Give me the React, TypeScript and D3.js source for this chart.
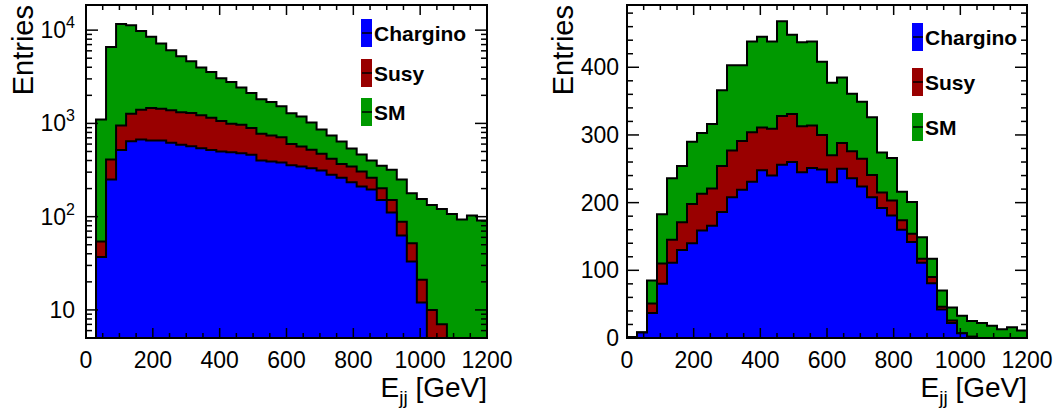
import React from "react";
import * as d3 from "d3";

// 40 bins of 30 GeV from 0 to 1200
const binWidth = 30;
const binLow = d3.range(0, 1200, binWidth);

// left panel (log y): entries per bin for each sample
const leftChargino = [0, 37, 250, 520, 645, 673, 656, 656, 620, 590, 570, 542, 520, 500, 490, 478, 460, 400, 390, 380, 355, 344, 330, 312, 281, 261, 234, 210, 196, 151, 111, 63, 33, 12, 0, 0, 0, 0, 0, 0];
const leftSusy = [0, 17, 160, 430, 625, 727, 804, 784, 760, 730, 720, 678, 630, 560, 500, 492, 430, 375, 350, 330, 245, 222, 191, 160, 136, 107, 110, 95, 65, 51, 40, 25, 19, 9, 10, 7, 0, 0, 0, 0];
const leftSM = [0, 1046, 6190, 10650, 10030, 8400, 7040, 5760, 4720, 3930, 3360, 2750, 2410, 1990, 1790, 1450, 1230, 1045, 960, 815, 682, 623, 504, 389, 326, 272, 194, 158, 139, 150, 167, 162, 126, 134, 123, 114, 107, 93, 103, 91];

// right panel (linear y)
const rightChargino = [1, 8, 37, 80, 111, 130, 140, 159, 166, 186, 208, 219, 231, 248, 240, 256, 260, 245, 251, 249, 230, 250, 236, 224, 208, 192, 181, 160, 142, 111, 81, 42, 22, 7, 2, 0, 0, 0, 0, 0];
const rightSusy = [0, 0, 14, 30, 34, 41, 58, 54, 55, 68, 69, 72, 73, 63, 69, 72, 71, 68, 63, 51, 40, 38, 40, 41, 33, 23, 22, 14, 12, 6, 9, 4, 4, 0, 0, 0, 0, 0, 0, 0];
const rightSM = [0, 0, 34, 73, 91, 83, 92, 90, 95, 112, 126, 112, 134, 134, 129, 140, 117, 124, 124, 108, 107, 97, 85, 84, 85, 59, 63, 42, 47, 32, 27, 24, 19, 26, 23, 22, 18, 13, 16, 11];

const seriesNames = ["Chargino", "Susy", "SM"];
const seriesColors = ["#0000ff", "#990000", "#009900"];

const xTicks = [0, 200, 400, 600, 800, 1000, 1200];
const leftYTicks = [10, 100, 1000, 10000];
const rightYTicks = [0, 100, 200, 300, 400];

const font = "'Liberation Sans', Arial, Helvetica, sans-serif";

type PanelProps = {
  id: string;
  x0: number;
  x1: number;
  log: boolean;
  values: number[][];
  legendX: number;
  legendY: number[];
  titleX: number;
};

const y0 = 5;
const y1 = 338;

const Panel = ({ id, x0, x1, log, values, legendX, legendY, titleX }: PanelProps) => {
  const x = d3.scaleLinear().domain([0, 1200]).range([x0, x1]);
  const yMin = log ? 5 : 0;
  const yScale = log
    ? d3.scaleLog().domain([5, 18600]).range([y1, y0]).clamp(true)
    : d3.scaleLinear().domain([0, 492]).range([y1, y0]).clamp(true);
  const yv = (v: number) => yScale(Math.max(v, yMin));

  const rows = binLow.map((b, i) => {
    const r: any = { low: b };
    seriesNames.forEach((n, k) => (r[n] = values[k][i]));
    return r;
  });
  const stack = d3.stack<any>().keys(seriesNames)(rows);

  const area = d3
    .area<[number, number]>()
    .x((d) => x(d[0]))
    .y0(y1)
    .y1((d) => yv(d[1]))
    .curve(d3.curveStepAfter);

  const xMinor = d3.range(0, 1201, 50);
  let yMajor: number[] = [];
  let yMinorT: number[] = [];
  if (log) {
    yMajor = leftYTicks;
    for (let dec = 1; dec <= 10000; dec *= 10) {
      for (let m = 2; m <= 9; m++) {
        const v = m * dec;
        if (v >= 5 && v <= 18600) yMinorT.push(v);
      }
    }
  } else {
    yMajor = rightYTicks;
    yMinorT = d3.range(0, 492, 20).filter((v) => v % 100 !== 0);
  }

  return (
    <g>
      <defs>
        <clipPath id={id}>
          <rect x={x0} y={y0} width={x1 - x0} height={y1 - y0} />
        </clipPath>
      </defs>
      <g clipPath={`url(#${id})`}>
        {[...stack].reverse().map((layer, li) => {
          const k = seriesNames.length - 1 - li;
          const pts: [number, number][] = layer.map((d: any, i: number) => [binLow[i], d[1]]);
          pts.push([1200, layer[layer.length - 1][1]]);
          return (
            <path
              key={layer.key}
              d={area(pts) || ""}
              fill={seriesColors[k]}
              stroke="#000"
              strokeWidth={2}
            />
          );
        })}
      </g>
      {/* ticks on all four sides */}
      <g stroke="#000" strokeWidth={1.5}>
        {xMinor.map((t) => {
          const len = t % 200 === 0 ? 10 : 5;
          return (
            <g key={"xt" + t}>
              <line x1={x(t)} x2={x(t)} y1={y1} y2={y1 - len} />
              <line x1={x(t)} x2={x(t)} y1={y0} y2={y0 + len} />
            </g>
          );
        })}
        {yMajor.map((t) => (
          <g key={"ym" + t}>
            <line x1={x0} x2={x0 + 12} y1={yScale(t)} y2={yScale(t)} />
            <line x1={x1} x2={x1 - 12} y1={yScale(t)} y2={yScale(t)} />
          </g>
        ))}
        {yMinorT.map((t) => (
          <g key={"yn" + t}>
            <line x1={x0} x2={x0 + 6} y1={yScale(t)} y2={yScale(t)} />
            <line x1={x1} x2={x1 - 6} y1={yScale(t)} y2={yScale(t)} />
          </g>
        ))}
      </g>
      <rect x={x0} y={y0} width={x1 - x0} height={y1 - y0} fill="none" stroke="#000" strokeWidth={2} />

      {/* tick labels */}
      <g fontFamily={font} fontSize={23} fill="#000">
        {xTicks.map((t) => (
          <text key={"xl" + t} x={x(t)} y={368} textAnchor="middle">
            {t}
          </text>
        ))}
        {log
          ? yMajor.map((t) => {
              const p = Math.round(Math.log10(t));
              return (
                <text key={"yl" + t} x={x0 - 11} y={yScale(t) + 8} textAnchor="end">
                  {p === 1 ? (
                    "10"
                  ) : (
                    <>
                      10
                      <tspan dy={-10} fontSize={16}>
                        {p}
                      </tspan>
                    </>
                  )}
                </text>
              );
            })
          : yMajor.map((t) => (
              <text key={"yl" + t} x={x0 - 8} y={yScale(t) + 8} textAnchor="end">
                {t}
              </text>
            ))}
      </g>

      {/* axis titles */}
      <text
        transform={`translate(${titleX},${y0}) rotate(-90)`}
        textAnchor="end"
        fontFamily={font}
        fontSize={29}
      >
        Entries
      </text>
      <text x={x1} y={397} textAnchor="end" fontFamily={font} fontSize={28}>
        E
        <tspan dy={7} fontSize={19}>
          jj
        </tspan>
        <tspan dy={-7}> [GeV]</tspan>
      </text>

      {/* legend */}
      <g fontFamily={font} fontWeight="bold" fontSize={21}>
        {seriesNames.map((n, k) => (
          <g key={"lg" + n}>
            <rect x={legendX} y={legendY[k] - 14} width={11} height={28} fill={seriesColors[k]} />
            <line x1={legendX + 1} x2={legendX + 11} y1={legendY[k]} y2={legendY[k]} stroke="#000" strokeWidth={1.5} />
            <text x={legendX + 13} y={legendY[k] + 8}>
              {n}
            </text>
          </g>
        ))}
      </g>
    </g>
  );
};

export default function App() {
  return (
    <svg
      width={1062}
      height={411}
      style={{ position: "absolute", left: 0, top: 0, background: "#fff" }}
    >
      <rect width={1062} height={411} fill="#fff" />
      <Panel
        id="clipL"
        x0={86}
        x1={487}
        log={true}
        values={[leftChargino, leftSusy, leftSM]}
        legendX={361}
        legendY={[33, 73, 112]}
        titleX={33}
      />
      <Panel
        id="clipR"
        x0={627}
        x1={1027}
        log={false}
        values={[rightChargino, rightSusy, rightSM]}
        legendX={912}
        legendY={[37, 82, 127]}
        titleX={573}
      />
    </svg>
  );
}
